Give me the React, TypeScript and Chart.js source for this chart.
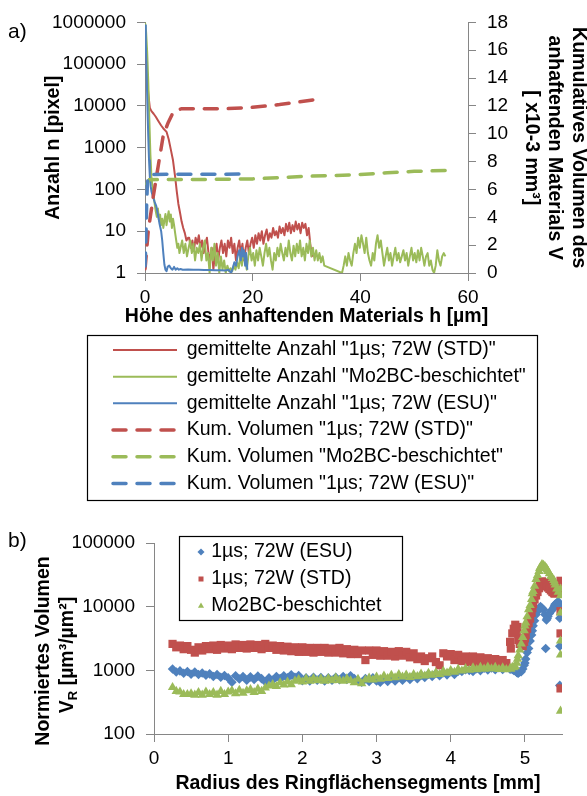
import { useEffect, useRef } from 'react';
import { Chart, registerables } from 'chart.js';

Chart.register(...registerables);

const FONT = '"Liberation Sans", Arial, Helvetica, sans-serif';
const RED = '#C0504D';
const GREEN = '#9BBB59';
const BLUE = '#4F81BD';
const AXIS = '#868686';

// ---------------- Panel a ----------------
const hTicks = [0, 20, 40, 60];
const nTicks = [1, 10, 100, 1000, 10000, 100000, 1000000];
const vTicks = [0, 2, 4, 6, 8, 10, 12, 14, 16, 18];
const xTitleA = 'Höhe des anhaftenden Materials h [µm]';

const legendA = [
  'gemittelte Anzahl "1µs; 72W (STD)"',
  'gemittelte Anzahl "Mo2BC-beschichtet"',
  'gemittelte Anzahl "1µs; 72W (ESU)"',
  'Kum. Volumen "1µs; 72W (STD)"',
  'Kum. Volumen "Mo2BC-beschichtet"',
  'Kum. Volumen "1µs; 72W (ESU)"',
];

const nSTD: [number, number][] = [
  [0, 470000], [0.2, 150000], [0.4, 50000], [0.6, 20000], [0.9, 9000], [1.2, 7500], [1.6, 6500], [2.0, 5500],
  [2.5, 4300], [3.0, 3400], [3.5, 2800], [4.0, 2400], [4.4, 1600], [4.8, 900], [5.2, 500], [5.6, 200],
  [5.9, 90], [6.2, 45], [6.5, 28], [6.8, 17], [7.1, 12], [7.4, 9], [7.7, 6], [8.0, 7],
  [8.2, 7], [8.5, 4], [8.8, 6], [9.1, 3.5], [9.4, 7], [9.7, 5], [10.0, 8], [10.3, 4], [10.6, 6], [10.9, 3],
  [11.2, 5], [11.5, 7], [11.8, 3], [12.1, 2], [12.4, 4], [12.7, 1.2], [13.0, 3], [13.3, 5], [13.6, 2], [13.9, 4],
  [14.2, 6], [14.5, 3], [14.8, 5], [15.1, 2.5], [15.4, 6], [15.7, 4], [16.0, 7], [16.3, 3], [16.6, 5], [16.9, 2],
  [17.2, 4], [17.5, 6], [17.8, 3], [18.1, 5], [18.4, 2], [18.7, 4], [19.0, 6], [19.3, 3], [19.6, 5], [19.9, 7],
  [20.2, 4], [20.5, 8], [20.8, 5], [21.1, 9], [21.4, 6], [21.7, 10], [22.0, 5], [22.3, 8], [22.6, 11], [22.9, 6],
  [23.2, 9], [23.5, 7], [23.8, 12], [24.1, 8], [24.4, 10], [24.7, 7], [25.0, 13], [25.3, 9], [25.6, 12], [25.9, 8],
  [26.2, 15], [26.5, 10], [26.8, 16], [27.1, 9], [27.4, 14], [27.7, 10], [28.0, 17], [28.3, 11], [28.6, 15], [28.9, 9],
  [29.2, 16], [29.5, 12], [29.8, 15], [30.1, 8], [30.4, 12], [30.7, 5], [31.0, 2.5], [31.2, 4],
];

const nMo2BC: [number, number][] = [
  [0, 1000000], [0.2, 600000], [0.4, 200000], [0.6, 40000], [0.8, 5000], [1.0, 700], [1.2, 200], [1.4, 110],
  [1.6, 70], [1.8, 45], [2.0, 30], [2.2, 22], [2.4, 35], [2.6, 18], [2.8, 25], [3.0, 14], [3.2, 20], [3.4, 12],
  [3.6, 18], [3.8, 26], [4.0, 14], [4.2, 22], [4.4, 30], [4.6, 17], [4.8, 25], [5.0, 12], [5.2, 20], [5.4, 14],
  [5.6, 9], [5.8, 6], [6.0, 4], [6.2, 5], [6.4, 3], [6.6, 4], [6.9, 6], [7.2, 3], [7.5, 5], [7.8, 2.5],
  [8.1, 4], [8.4, 6], [8.7, 3], [9.0, 5], [9.3, 2], [9.6, 4], [9.9, 3], [10.2, 5], [10.5, 2], [10.8, 4],
  [11.1, 6], [11.4, 2], [11.7, 3], [12.0, 1], [12.3, 4], [12.6, 2], [12.9, 5], [13.2, 1.5], [13.5, 3], [13.8, 1],
  [14.1, 2.5], [14.4, 1.2], [14.7, 2], [15.0, 1], [15.3, 1.5], [15.6, 1.1], [15.9, 1.3], [16.2, 1.1], [16.5, 1.5], [16.8, 1.2],
  [17.1, 1.8], [17.4, 1.3], [17.7, 2.5], [18.0, 1.5], [18.3, 3], [18.6, 2], [18.9, 1.2], [19.2, 2.5], [19.5, 4], [19.8, 2],
  [20.1, 3], [20.4, 1.5], [20.7, 3.5], [21.0, 2], [21.3, 4], [21.6, 2.5], [21.9, 1.5], [22.2, 3], [22.5, 5], [22.8, 2.5],
  [23.1, 4], [23.4, 2], [23.7, 1.2], [24.0, 3], [24.3, 2], [24.6, 4], [24.9, 2.5], [25.2, 5], [25.5, 3], [25.8, 2],
  [26.1, 4], [26.4, 2.5], [26.7, 6], [27.0, 3], [27.3, 2], [27.6, 4.5], [27.9, 2.5], [28.2, 5], [28.5, 3], [28.8, 6],
  [29.1, 2.5], [29.4, 4], [29.7, 2], [30.0, 5], [30.3, 3], [30.6, 6], [30.9, 2.5], [31.2, 4], [31.5, 2], [31.8, 3.5],
  [32.1, 2], [32.4, 3], [32.7, 1.8], [33.0, 2.5], [33.3, 1.5], [36.6, 1], [36.9, 1.5], [37.2, 2.5], [37.5, 1.5], [37.8, 3],
  [38.1, 2], [38.4, 1.5], [38.7, 3], [39.0, 5], [39.3, 3], [39.6, 7], [39.9, 4], [40.2, 8], [40.5, 5], [40.8, 3],
  [41.1, 7], [41.4, 3], [41.7, 2], [42.0, 1.5], [42.3, 3], [42.6, 2], [42.9, 5], [43.2, 8], [43.5, 4], [43.8, 6],
  [44.1, 3], [44.4, 1.5], [44.7, 2.5], [45.0, 4], [45.3, 2], [45.6, 3], [45.9, 1.5], [46.2, 2.5], [46.5, 4], [46.8, 2],
  [47.1, 3], [47.4, 1.8], [47.7, 2.5], [48.0, 3.5], [48.3, 2], [48.6, 3], [48.9, 1.5], [49.2, 2.5], [49.5, 4], [49.8, 2],
  [50.1, 3], [50.4, 1.8], [50.7, 3.5], [51.0, 2], [51.3, 4], [51.6, 2.5], [51.9, 1.5], [52.2, 2.5], [52.5, 3], [52.8, 1.5],
  [53.1, 2], [53.4, 1.2], [53.7, 1], [54.0, 1.5], [54.3, 3.5], [54.6, 2], [54.9, 1.5], [55.2, 2.5], [55.5, 3], [55.8, 2.5],
];

const nESU: [number, number][] = [
  [0, 850000], [0.15, 300000], [0.3, 60000], [0.45, 10000], [0.6, 2000], [0.75, 500], [0.9, 200], [1.05, 120],
  [1.2, 90], [1.5, 65], [1.8, 50], [2.1, 40], [2.4, 25], [2.7, 15], [3.0, 10], [3.2, 6], [3.4, 3], [3.6, 1.6],
  [3.8, 1.2], [4.0, 1.1], [4.2, 1.4], [4.5, 1.5], [4.8, 1.3], [5.1, 1.2], [5.4, 1.4], [5.7, 1.2], [6.0, 1.3], [6.3, 1.2],
  [6.6, 1.25], [7.0, 1.2], [8.0, 1.22], [9.0, 1.2], [10.0, 1.2], [11.0, 1.18], [12.0, 1.18], [13.0, 1.17], [14.0, 1.16], [15.0, 1.15],
  [15.5, 1.2], [16.0, 1.0], [16.3, 1.3], [16.6, 1.8], [16.9, 1.5], [17.2, 2.5], [17.5, 3.5], [17.8, 2], [18.0, 4], [18.2, 2.5],
  [18.4, 3.5], [18.6, 1.5], [18.8, 3], [19.0, 1.2],
];

const vSTD: [number, number][] = [
  [0, 0.3], [0.1, 0.7], [0.6, 3.0], [1.5, 5.4], [2.5, 7.8], [3.4, 9.9], [4.3, 10.8], [5.3, 11.6], [6.8, 11.8],
  [10, 11.8], [15, 11.8], [20, 11.9], [25, 12.1], [28, 12.25], [31.5, 12.45],
];
const vMo2BC: [number, number][] = [
  [0.3, 6.4], [0.8, 6.7], [5, 6.72], [10, 6.72], [15, 6.74], [20, 6.76], [25, 6.85], [30, 6.95], [35, 7.0],
  [40, 7.08], [45, 7.2], [50, 7.3], [56, 7.37],
];
const vESU: [number, number][] = [
  [0, 0.5], [0.1, 1.5], [0.2, 3.0], [0.3, 4.8], [0.45, 6.5], [0.7, 7.0], [1.2, 7.08], [5, 7.1], [10, 7.1],
  [15, 7.1], [18.8, 7.12],
];

// ---------------- Panel b ----------------
const rTicks = [0, 1, 2, 3, 4, 5];
const vrTicks = [100, 1000, 10000, 100000];
const legendB = ['1µs; 72W (ESU)', '1µs; 72W (STD)', 'Mo2BC-beschichtet'];

const radiusMm = [
  0.25, 0.30, 0.35, 0.40, 0.45, 0.50, 0.55, 0.60, 0.65, 0.70,
  0.75, 0.80, 0.85, 0.90, 0.95, 1.00, 1.05, 1.10, 1.15, 1.20,
  1.25, 1.30, 1.35, 1.40, 1.45, 1.50, 1.55, 1.60, 1.65, 1.70,
  1.75, 1.80, 1.85, 1.90, 1.95, 2.00, 2.05, 2.10, 2.15, 2.20,
  2.25, 2.30, 2.35, 2.40, 2.45, 2.50, 2.55, 2.60, 2.65, 2.70,
  2.75, 2.80, 2.85, 2.90, 2.95, 3.00, 3.05, 3.10, 3.15, 3.20,
  3.25, 3.30, 3.35, 3.40, 3.45, 3.50, 3.55, 3.60, 3.65, 3.70,
  3.75, 3.80, 3.85, 3.90, 3.95, 4.00, 4.05, 4.10, 4.15, 4.20,
  4.25, 4.30, 4.35, 4.40, 4.45, 4.50, 4.55, 4.60, 4.65, 4.70,
  4.75, 4.80, 4.85, 4.90, 4.95, 5.00, 5.05, 5.10, 5.15, 5.20,
  5.25, 5.30, 5.35, 5.40, 5.45,
];
const vrESU = [
  1050, 940, 980, 900, 960, 870, 940, 860, 910, 840,
  880, 800, 860, 780, 830, 760, 650, 820, 730, 800,
  700, 790, 720, 810, 740, 660, 760, 700, 800, 740,
  820, 760, 850, 780, 830, 690, 760, 680, 780, 700,
  770, 680, 760, 700, 780, 710, 800, 720, 820, 740,
  680, 650, 740, 670, 760, 680, 650, 740, 670, 760,
  680, 780, 700, 800, 720, 820, 740, 840, 770, 870,
  800, 890, 820, 920, 850, 950, 860, 970, 960, 1020,
  1000, 960, 1060, 990, 1080, 1010, 1090, 1020, 1100, 1030,
  1110, 1040, 1000, 920, 950, 1300, 2200, 4200, 7500, 9500,
  9000, 6500, 8500, 10500, 12000,
];
const vrSTD = [
  2600, 2300, 2450, 2150, 2400, 2100, 1900, 2300, 2050, 2400,
  2150, 2450, 2100, 2500, 2200, 2450, 2150, 2550, 2250, 2500,
  2200, 2550, 2250, 2500, 2150, 2600, 2250, 2450, 2100, 2400,
  2050, 2350, 2000, 2300, 1950, 2300, 1950, 2250, 1900, 2250,
  1950, 2250, 1900, 2200, 1900, 2250, 1850, 2150, 1800, 2100,
  1800, 2050, 1450, 2050, 1750, 2050, 1700, 2000, 1700, 1950,
  1650, 2000, 1700, 1950, 1600, 1850, 1500, 1650, 1400, 1550,
  1650, 1350, 1200, 1850, 1650, 1800, 1450, 1750, 1400, 1650,
  1350, 1650, 1300, 1600, 1250, 1550, 1250, 1500, 1250, 1450,
  1300, 2800, 4500, 4800, 2600, 3200, 5500, 9500, 15000, 21000,
  24000, 22000, 18000, 16000, 19000,
];
const vrMo2BC = [
  540, 470, 460, 420, 420, 430, 410, 450, 410, 460,
  420, 450, 410, 470, 420, 460, 480, 430, 490, 440,
  480, 500, 450, 510, 470, 530, 570, 600, 560, 640,
  590, 660, 600, 680, 720, 660, 740, 680, 750, 690,
  740, 680, 750, 690, 760, 700, 680, 740, 690, 640,
  730, 620, 710, 760, 710, 790, 730, 820, 750, 840,
  770, 860, 790, 850, 780, 860, 800, 880, 820, 900,
  840, 920, 870, 970, 910, 1000, 940, 1040, 980, 1070,
  1010, 1100, 1030, 1120, 1050, 1130, 1060, 1120, 1040, 1100,
  1030, 1080, 1110, 1500, 2600, 5000, 9000, 16000, 27000, 40000,
  45000, 38000, 30000, 24000, 17000,
];

// denser readings across the steep rise at the ring edge
const radiusPeak = [
  4.81, 4.83, 4.87, 4.89, 4.91, 4.93, 4.97, 4.99, 5.01, 5.03, 5.07, 5.09, 5.11,
  5.13, 5.17, 5.19, 5.21, 5.23, 5.27, 5.29, 5.31, 5.33, 5.37, 5.39, 5.41, 5.43,
];
const peakESU = [
  1060, 1030, 980, 930, 900, 940, 1050, 1200, 1500, 1900, 2900, 3600, 5000,
  6000, 8500, 9500, 10000, 9500, 7500, 6200, 7000, 7800, 9000, 9800, 11000, 11500,
];
const peakSTD = [
  2200, 3800, 5200, 4000, 3000, 2600, 2400, 2800, 3600, 4500, 6500, 8000, 11000,
  13000, 17000, 19500, 23000, 25000, 23500, 21000, 20000, 19000, 17000, 16500, 17000, 18500,
];
const peakMo2BC = [
  1050, 1120, 1150, 1300, 1700, 2100, 3300, 4200, 5600, 7000, 10500, 13000, 17500,
  21000, 31000, 36000, 42000, 46000, 43000, 40000, 36000, 33000, 28000, 26000, 22000, 19000,
];

// scattered outliers at the outer edge
const edgeESU: [number, number][] = [[5.28, 2200], [5.47, 11000], [5.47, 6600], [5.47, 2400], [5.47, 580]];
const edgeSTD: [number, number][] = [[5.48, 25500], [5.48, 17500], [5.48, 8500], [5.48, 3800], [5.48, 520]];
const edgeMo2BC: [number, number][] = [[5.48, 19000], [5.48, 15000], [5.48, 8000], [5.48, 2900], [5.48, 1750], [5.48, 230]];

// ---------------- helpers ----------------
const pairsToXY = (p: [number, number][]) => p.map(([x, y]) => ({ x, y }));
const seriesToXY = (xs: number[], ys: number[]) => xs.map((x, i) => ({ x, y: ys[i] }));

const tickFont = { family: FONT, size: 19 };
const titleFont = { family: FONT, size: 19.5, weight: 'bold' as const };

const fixedTicks = (vals: number[]) => (s: any) => {
  s.ticks = vals.map((v) => ({ value: v }));
};

const gridOpts = { drawOnChartArea: false, color: AXIS, tickLength: 8, lineWidth: 1 };
const borderOpts = { color: AXIS, width: 1 };

const panelAPlugin = {
  id: 'panelA',
  beforeDraw(chart: any) {
    const lg = chart.legend;
    if (lg) {
      lg.left = 105.8;
      lg.top = 333;
      lg.right = 585;
      lg.bottom = 508;
    }
  },
  afterDraw(chart: any) {
    const ctx = chart.ctx;
    const area = chart.chartArea;
    ctx.save();
    ctx.strokeStyle = '#000';
    ctx.lineWidth = 1.2;
    ctx.strokeRect(87.5, 335.5, 450, 165);
    ctx.fillStyle = '#000';
    ctx.font = `21px ${FONT}`;
    ctx.textAlign = 'left';
    ctx.textBaseline = 'middle';
    ctx.fillText('a)', 8, 32);
    // x-axis title (drawn here so it is not squeezed to the plot width)
    ctx.font = `bold 19.5px ${FONT}`;
    ctx.textAlign = 'center';
    ctx.fillText(xTitleA, (area.left + area.right) / 2, 317);
    ctx.restore();
  },
};

const panelBPlugin = {
  id: 'panelB',
  beforeDraw(chart: any) {
    const lg = chart.legend;
    if (lg) {
      lg.left = 193;
      lg.top = 14.75;
      lg.right = 585;
      lg.bottom = 210;
    }
  },
  afterDraw(chart: any) {
    const ctx = chart.ctx;
    ctx.save();
    ctx.strokeStyle = '#000';
    ctx.lineWidth = 1.2;
    ctx.strokeRect(179.5, 16.5, 223, 84);
    ctx.fillStyle = '#000';
    ctx.font = `21px ${FONT}`;
    ctx.textAlign = 'left';
    ctx.textBaseline = 'middle';
    ctx.fillText('b)', 8, 21);
    ctx.restore();

    const big = `bold 19.5px ${FONT}`;
    const small = `bold 13px ${FONT}`;
    ctx.save();
    ctx.fillStyle = '#000';
    ctx.translate(44, 131);
    ctx.rotate(-Math.PI / 2);
    ctx.font = big;
    ctx.textAlign = 'center';
    ctx.textBaseline = 'middle';
    ctx.fillText('Normiertes Volumen', 0, 0);
    ctx.restore();

    ctx.save();
    ctx.fillStyle = '#000';
    ctx.translate(68, 135);
    ctx.rotate(-Math.PI / 2);
    ctx.textAlign = 'left';
    ctx.textBaseline = 'middle';
    const rest = ' [µm³/µm²]';
    ctx.font = big;
    const wV = ctx.measureText('V').width;
    const wRest = ctx.measureText(rest).width;
    ctx.font = small;
    const wR = ctx.measureText('R').width;
    let x = -(wV + wR + wRest) / 2;
    ctx.font = big;
    ctx.fillText('V', x, 0);
    x += wV;
    ctx.font = small;
    ctx.fillText('R', x, 5);
    x += wR;
    ctx.font = big;
    ctx.fillText(rest, x, 0);
    ctx.restore();
  },
};

function buildA(canvas: HTMLCanvasElement) {
  const solid = (label: string, color: string, p: [number, number][], order: number) => ({
    label,
    data: pairsToXY(p),
    borderColor: color,
    backgroundColor: color,
    borderWidth: 2,
    borderJoinStyle: 'round',
    pointRadius: 0,
    showLine: true,
    tension: 0,
    yAxisID: 'y',
    order,
  });
  const dashed = (label: string, color: string, p: [number, number][], order: number) => ({
    label,
    data: pairsToXY(p),
    borderColor: color,
    backgroundColor: color,
    borderWidth: 3.5,
    borderDash: [13, 11],
    borderCapStyle: 'round',
    pointRadius: 0,
    showLine: true,
    tension: 0,
    yAxisID: 'y2',
    order,
  });
  return new Chart(canvas, {
    type: 'scatter',
    data: {
      datasets: [
        solid(legendA[0], RED, nSTD, 5),
        solid(legendA[1], GREEN, nMo2BC, 4),
        solid(legendA[2], BLUE, nESU, 3),
        dashed(legendA[3], RED, vSTD, 2),
        dashed(legendA[4], GREEN, vMo2BC, 1),
        dashed(legendA[5], BLUE, vESU, 0),
      ] as any,
    },
    options: {
      animation: false,
      responsive: false,
      events: [],
      layout: { padding: { left: 0, right: 0, top: 19, bottom: 181.3 } },
      scales: {
        x: {
          type: 'linear',
          min: 0,
          max: 60,
          afterBuildTicks: fixedTicks(hTicks),
          grid: gridOpts,
          border: borderOpts,
          ticks: { font: tickFont, color: '#000', padding: 5, maxRotation: 0, autoSkip: false, callback: (v: any) => String(v) },
          title: { display: false },
          afterFit: (s: any) => { s.height = 55.7; },
        },
        y: {
          type: 'logarithmic',
          position: 'left',
          min: 1,
          max: 1000000,
          afterBuildTicks: fixedTicks(nTicks),
          grid: gridOpts,
          border: borderOpts,
          ticks: { font: tickFont, color: '#000', padding: 11, autoSkip: false, callback: (v: any) => String(v) },
          title: { display: true, text: 'Anzahl n [pixel]', font: titleFont, color: '#000', padding: { top: 42, bottom: 0 } },
          afterFit: (s: any) => { s.width = 145; },
        },
        y2: {
          type: 'linear',
          position: 'right',
          min: 0,
          max: 18,
          afterBuildTicks: fixedTicks(vTicks),
          grid: gridOpts,
          border: borderOpts,
          ticks: { font: tickFont, color: '#000', padding: 11, autoSkip: false, callback: (v: any) => String(v) },
          title: {
            display: true,
            text: ['Kumulatives Volumen des', 'anhaftenden Materials V', '[ x10-3 mm³]'],
            font: titleFont,
            color: '#000',
            padding: { top: -2.7, bottom: 0 },
          },
          afterFit: (s: any) => { s.width = 119; },
        },
      } as any,
      plugins: {
        tooltip: { enabled: false },
        legend: {
          position: 'chartArea',
          align: 'start',
          labels: {
            usePointStyle: true,
            pointStyleWidth: 64,
            boxHeight: 6,
            padding: 7.2,
            color: '#000',
            font: { family: FONT, size: 19.5 },
            generateLabels: (chart: any) =>
              chart.data.datasets.map((ds: any, i: number) => ({
                text: ds.label,
                fillStyle: ds.borderColor,
                strokeStyle: ds.borderColor,
                lineWidth: ds.borderWidth,
                lineDash: ds.borderDash || [],
                lineCap: ds.borderCapStyle || 'butt',
                pointStyle: 'line',
                hidden: false,
                datasetIndex: i,
              })),
          },
        } as any,
      },
    },
    plugins: [panelAPlugin],
  } as any);
}

function buildB(canvas: HTMLCanvasElement) {
  const pts = (label: string, color: string, style: string, radius: number, data: any[], order: number) => ({
    label,
    data,
    pointStyle: style,
    pointRadius: radius,
    pointBackgroundColor: color,
    backgroundColor: color,
    borderColor: color,
    pointBorderWidth: 0,
    borderWidth: 0,
    showLine: false,
    order,
  });
  return new Chart(canvas, {
    type: 'scatter',
    data: {
      datasets: [
        pts(legendB[0], BLUE, 'rectRot', 4.8, [...seriesToXY(radiusMm, vrESU), ...seriesToXY(radiusPeak, peakESU), ...pairsToXY(edgeESU)], 2),
        pts(legendB[1], RED, 'rect', 5.8, [...seriesToXY(radiusMm, vrSTD), ...seriesToXY(radiusPeak, peakSTD), ...pairsToXY(edgeSTD)], 1),
        pts(legendB[2], GREEN, 'triangle', 5.4, [...seriesToXY(radiusMm, vrMo2BC), ...seriesToXY(radiusPeak, peakMo2BC), ...pairsToXY(edgeMo2BC)], 0),
      ] as any,
    },
    options: {
      animation: false,
      responsive: false,
      events: [],
      layout: { padding: { left: 0, right: 25, top: 23, bottom: 1 } },
      scales: {
        x: {
          type: 'linear',
          min: 0,
          max: 5.5,
          afterBuildTicks: fixedTicks(rTicks),
          grid: gridOpts,
          border: borderOpts,
          ticks: { font: tickFont, color: '#000', padding: 5, maxRotation: 0, autoSkip: false, callback: (v: any) => String(v) },
          title: { display: true, text: 'Radius des Ringflächensegments [mm]', font: titleFont, color: '#000', padding: { top: 0, bottom: 0 } },
          afterFit: (s: any) => { s.height = 61; },
        },
        y: {
          type: 'logarithmic',
          position: 'left',
          min: 100,
          max: 100000,
          afterBuildTicks: fixedTicks(vrTicks),
          grid: gridOpts,
          border: borderOpts,
          ticks: { font: tickFont, color: '#000', padding: 11, autoSkip: false, callback: (v: any) => String(v) },
          title: { display: false },
          afterFit: (s: any) => { s.width = 154; },
        },
      } as any,
      plugins: {
        tooltip: { enabled: false },
        legend: {
          position: 'chartArea',
          align: 'start',
          labels: {
            usePointStyle: true,
            boxWidth: 1,
            boxHeight: 5,
            padding: 7.5,
            color: '#000',
            font: { family: FONT, size: 19.5 },
            generateLabels: (chart: any) =>
              chart.data.datasets.map((ds: any, i: number) => ({
                text: ds.label,
                fillStyle: ds.pointBackgroundColor,
                strokeStyle: ds.pointBackgroundColor,
                lineWidth: 0,
                pointStyle: ds.pointStyle,
                hidden: false,
                datasetIndex: i,
              })),
          },
        } as any,
      },
    },
    plugins: [panelBPlugin],
  } as any);
}

export default function App() {
  const refA = useRef<HTMLCanvasElement>(null);
  const refB = useRef<HTMLCanvasElement>(null);
  useEffect(() => {
    document.body.style.margin = '0';
    Chart.defaults.font.family = FONT;
    const a = refA.current ? buildA(refA.current) : null;
    const b = refB.current ? buildB(refB.current) : null;
    return () => {
      if (a) a.destroy();
      if (b) b.destroy();
    };
  }, []);
  return (
    <div style={{ position: 'relative', width: 587, height: 796, background: '#fff' }}>
      <canvas ref={refA} width={587} height={510} style={{ position: 'absolute', left: 0, top: 0 }} />
      <canvas ref={refB} width={587} height={276} style={{ position: 'absolute', left: 0, top: 520 }} />
    </div>
  );
}
